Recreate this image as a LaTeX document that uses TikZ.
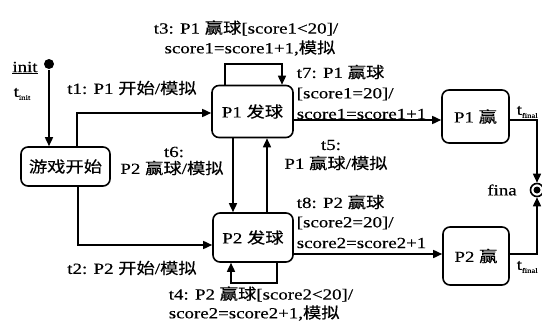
\documentclass[tikz,border=0pt]{standalone}
\usepackage{fontspec}
\setmainfont{Liberation Serif}[FakeStretch=1.22,FakeBold=0.4]
\newfontfamily\cjk{Noto Sans CJK SC}[FakeStretch=1.18,FakeBold=0.4]
\usetikzlibrary{arrows.meta,calc}
\newcommand\zh[1]{{\cjk #1}}
\newcommand\sbs[1]{\raisebox{-0.45ex}{\fontsize{7}{7}\selectfont #1}}
\begin{document}
\begin{tikzpicture}[x=1pt,y=-1pt,
  font=\fontsize{15.5}{19}\selectfont,
  line width=1.6pt,
  >={Triangle[length=9pt,width=8pt]},
  state/.style={draw, rounded corners=7pt, inner sep=0pt},
  lbl/.style={inner sep=0pt},
  lw/.style={inner sep=0pt, anchor=west}]
\useasboundingbox (0,0) rectangle (542,327);
% states
\node[state, minimum width=89pt, minimum height=39pt] (start) at (65.5,166.5) {\zh{游戏开始}};
\node[state, minimum width=81pt, minimum height=52pt] (p1s) at (252.5,111.5) {P1 \zh{发球}};
\node[state, minimum width=80pt, minimum height=49pt] (p2s) at (253,237.5) {P2 \zh{发球}};
\node[state, minimum width=67pt, minimum height=53pt] (p1w) at (475.5,116.5) {P1 \zh{赢}};
\node[state, minimum width=66pt, minimum height=58pt] (p2w) at (476,256) {P2 \zh{赢}};
% pseudo states
\node[circle, fill, inner sep=0pt, minimum size=10pt] (init) at (49,64) {};
\node[circle, draw, inner sep=0pt, minimum size=13pt] (fin) at (537,190) {};
\node[circle, fill, inner sep=0pt, minimum size=7pt] (fincore) at (fin.center) {};
% connectors
\draw[->] (init) -- (init |- start.north);
\draw[->] ([xshift=11.5pt]start.north) |- ([yshift=-1.5pt]p1s.west);
\draw[->] ([xshift=12.5pt]start.south) |- ([yshift=-7.5pt]p2s.west);
\draw[->] ([xshift=-19.5pt]p1s.south) -- ([xshift=-19.5pt]p1s.south |- p2s.north);
\draw[->] ([xshift=14pt]p2s.north) -- ([xshift=14pt]p2s.north |- p1s.south);
\draw[->] ([xshift=-27.5pt]p1s.north) |- ([xshift=29.5pt,yshift=20.5pt]p1s.north) -- ([xshift=29.5pt]p1s.north);
\draw[->] ([xshift=24pt]p2s.south) |- ([xshift=-22pt,yshift=-20pt]p2s.south) -- ([xshift=-22pt]p2s.south);
\draw[->] ([yshift=-8.5pt]p1s.east) -- ([yshift=-8.5pt]p1s.east -| p1w.west);
\draw[->] ([yshift=-16.5pt]p2s.east) -- ([yshift=-16.5pt]p2s.east -| p2w.west);
\draw[->] ([yshift=-3.5pt]p1w.east) -| (fin.north);
\draw[->] ([yshift=2pt]p2w.east) -| (fin.south);
% labels
\node[lbl] (linit) at (25,68) {\underline{init}};
\node[lbl] (ltinit) at (22,94) {t\sbs{init}};
\node[lbl] (lfin) at (502,190) {fina};
\node[lw] (ltf1) at (516,112) {t\sbs{final}};
\node[lw] (ltf2) at (516,267) {t\sbs{final}};
\node[lbl] (lt1) at (132,88) {t1: P1 \zh{开始}/\zh{模拟}};
\node[lbl] (lt2) at (132,268) {t2: P2 \zh{开始}/\zh{模拟}};
\node[lbl] (lt6a) at (174,152) {t6:};
\node[lbl] (lt6b) at (172,168) {P2 \zh{赢球}/\zh{模拟}};
\node[lbl] (lt5a) at (331,145) {t5:};
\node[lbl] (lt5b) at (336,163) {P1 \zh{赢球}/\zh{模拟}};
\node[lbl] (lt3a) at (246,28) {t3: P1 \zh{赢球}[score1<20]/};
\node[lbl] (lt3b) at (250,48) {score1=score1+1,\zh{模拟}};
\node[lw] (lt7a) at (296,72) {t7: P1 \zh{赢球}};
\node[lw] (lt7b) at (296,94) {[score1=20]/};
\node[lw] (lt7c) at (296,114) {score1=score1+1};
\node[lw] (lt8a) at (296,202) {t8: P2 \zh{赢球}};
\node[lw] (lt8b) at (296,223) {[score2=20]/};
\node[lw] (lt8c) at (296,243) {score2=score2+1};
\node[lw] (lt4a) at (168,294) {t4: P2 \zh{赢球}[score2<20]/};
\node[lw] (lt4b) at (168,313) {score2=score2+1,\zh{模拟}};
\end{tikzpicture}
\end{document}
